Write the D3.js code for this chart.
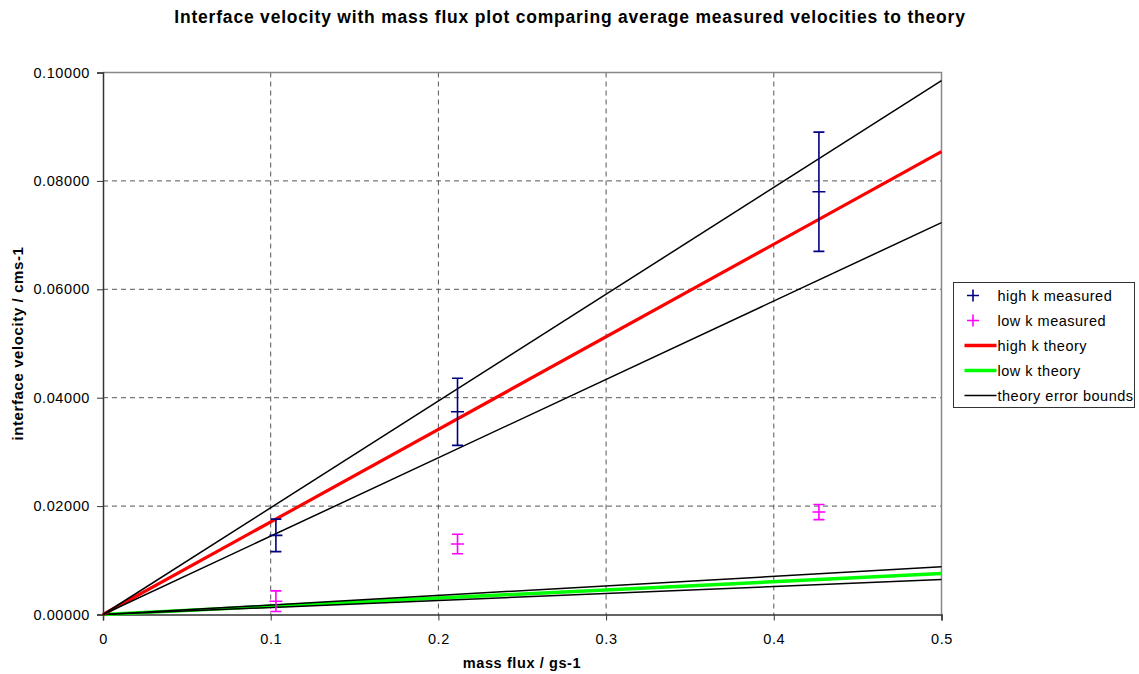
<!DOCTYPE html>
<html>
<head>
<meta charset="utf-8">
<script src="https://cdn.jsdelivr.net/npm/d3@7/dist/d3.min.js"></script>
<style>
  body { margin: 0; background: #fff; }
  svg { display: block; font-family: "Liberation Sans", Arial, sans-serif; }
</style>
</head>
<body>
<svg id="chart" width="1139" height="674"></svg>
<script>
// Measured interface velocities (cm/s) vs mass flux (g/s)
const highKFlux = [0.1031, 0.2114, 0.4269];
const highKVel  = [0.0146, 0.0374, 0.0780];
const highKErr  = [0.0030, 0.0062, 0.0110];

const lowKFlux = [0.1031, 0.2114, 0.4269];
const lowKVel  = [0.00245, 0.0130, 0.0189];
const lowKErr  = [0.0019, 0.0018, 0.0014];

// Theory lines: velocity at mass flux 0 and 0.5
const lineFlux        = [0, 0.5];
const highKTheory     = [0, 0.0854];
const highKUpper      = [0, 0.0985];
const highKLower      = [0, 0.0723];
const lowKTheory      = [0, 0.00757];
const lowKUpper       = [0, 0.0088];
const lowKLower       = [0, 0.00646];

const xTicks = [0, 0.1, 0.2, 0.3, 0.4, 0.5];
const yTicks = [0, 0.02, 0.04, 0.06, 0.08, 0.10];

const legendItems = [
  { label: "high k measured", type: "plus", color: "#000080" },
  { label: "low k measured", type: "plus", color: "#FF00FF" },
  { label: "high k theory", type: "line", color: "#FF0000", width: 3.5 },
  { label: "low k theory", type: "line", color: "#00FF00", width: 3.5 },
  { label: "theory error bounds", type: "line", color: "#000000", width: 1.5 }
];

const svg = d3.select("#chart");
const plot = { left: 103, right: 941.5, top: 72.5, bottom: 614.5 };

const x = d3.scaleLinear().domain([0, 0.5]).range([plot.left, plot.right]);
const y = d3.scaleLinear().domain([0, 0.1]).range([plot.bottom, plot.top]);

// Title
svg.append("text")
  .attr("x", 570).attr("y", 23)
  .attr("text-anchor", "middle")
  .attr("font-size", 17.5).attr("font-weight", "bold")
  .attr("letter-spacing", 0.8)
  .text("Interface velocity with mass flux plot comparing average measured velocities to theory");

// Grid lines
const grid = svg.append("g");
grid.selectAll("line.vx").data(xTicks.slice(1, -1)).join("line")
  .attr("x1", d => x(d)).attr("x2", d => x(d))
  .attr("y1", plot.top).attr("y2", plot.bottom)
  .attr("stroke", "#555").attr("stroke-width", 1).attr("stroke-dasharray", "5,4");
grid.selectAll("line.hy").data(yTicks.slice(1, -1)).join("line")
  .attr("x1", plot.left).attr("x2", plot.right)
  .attr("y1", d => y(d)).attr("y2", d => y(d))
  .attr("stroke", "#555").attr("stroke-width", 1).attr("stroke-dasharray", "5,4");

// Plot frame (top and right)
svg.append("path")
  .attr("d", `M${plot.left},${plot.top}H${plot.right}V${plot.bottom}`)
  .attr("fill", "none").attr("stroke", "#888").attr("stroke-width", 1.5);

// Axes
const xAxis = svg.append("g")
  .attr("transform", `translate(0,${plot.bottom})`)
  .call(d3.axisBottom(x).tickValues(xTicks).tickSize(6).tickPadding(13)
    .tickFormat(d => d === 0 ? "0" : d3.format(".1f")(d)));
const yAxis = svg.append("g")
  .attr("transform", `translate(${plot.left},0)`)
  .call(d3.axisLeft(y).tickValues(yTicks).tickSize(6).tickPadding(7)
    .tickFormat(d3.format(".5f")));
[xAxis, yAxis].forEach(a => {
  a.select(".domain").attr("stroke", "#333").attr("stroke-width", 1.5);
  a.selectAll(".tick line").attr("stroke", "#333").attr("stroke-width", 1);
  a.selectAll(".tick text").attr("font-size", 14.5).attr("fill", "#000")
    .attr("letter-spacing", 0.6)
    .attr("font-family", "'Liberation Sans', Arial, sans-serif");
});

// Axis titles
svg.append("text")
  .attr("x", 522).attr("y", 668)
  .attr("text-anchor", "middle")
  .attr("font-size", 14.5).attr("font-weight", "bold")
  .attr("letter-spacing", 0.6)
  .text("mass flux / gs-1");
svg.append("text")
  .attr("transform", `translate(23,${(plot.top + plot.bottom) / 2}) rotate(-90)`)
  .attr("text-anchor", "middle")
  .attr("font-size", 15).attr("font-weight", "bold")
  .attr("letter-spacing", 0.6)
  .text("interface velocity / cms-1");

// Theory lines
const line = d3.line().x(d => x(d[0])).y(d => y(d[1]));
const drawLine = (vals, color, width) => svg.append("path")
  .datum(lineFlux.map((f, i) => [f, vals[i]]))
  .attr("d", line).attr("fill", "none")
  .attr("stroke", color).attr("stroke-width", width);

drawLine(lowKTheory, "#00FF00", 3.5);
drawLine(lowKUpper, "#000", 1.5);
drawLine(lowKLower, "#000", 1.5);
drawLine(highKTheory, "#FF0000", 3.2);
drawLine(highKUpper, "#000", 1.5);
drawLine(highKLower, "#000", 1.5);

// Measured points with error bars
function drawMeasured(flux, vel, err, color) {
  const g = svg.append("g").attr("stroke", color).attr("stroke-width", 1.6).attr("fill", "none");
  const pts = flux.map((f, i) => ({ f, v: vel[i], e: err[i] }));
  const cap = 5.5, arm = 6.5;
  g.selectAll("path").data(pts).join("path")
    .attr("d", d => {
      const cx = x(d.f), cy = y(d.v), t = y(d.v + d.e), b = y(d.v - d.e);
      return `M${cx},${t}V${b}` +
        `M${cx - cap},${t}H${cx + cap}M${cx - cap},${b}H${cx + cap}` +
        `M${cx - arm},${cy}H${cx + arm}`;
    });
}
drawMeasured(highKFlux, highKVel, highKErr, "#000080");
drawMeasured(lowKFlux, lowKVel, lowKErr, "#FF00FF");

// Legend
const lg = svg.append("g").attr("transform", "translate(953.5,282.5)");
lg.append("rect").attr("width", 181).attr("height", 125)
  .attr("fill", "#fff").attr("stroke", "#333").attr("stroke-width", 1);
const rows = lg.selectAll("g.item").data(legendItems).join("g")
  .attr("transform", (d, i) => `translate(0,${13 + i * 25})`);
rows.each(function (d) {
  const r = d3.select(this);
  if (d.type === "plus") {
    r.append("path").attr("d", "M19.5,-6V6M13.5,0H25.5")
      .attr("stroke", d.color).attr("stroke-width", 1.6);
  } else {
    r.append("line").attr("x1", 11).attr("x2", 43).attr("y1", 0).attr("y2", 0)
      .attr("stroke", d.color).attr("stroke-width", d.width);
  }
});
rows.append("text").attr("x", 44).attr("y", 5)
  .attr("font-size", 14.5).attr("letter-spacing", 0.5).text(d => d.label);
</script>
</body>
</html>
